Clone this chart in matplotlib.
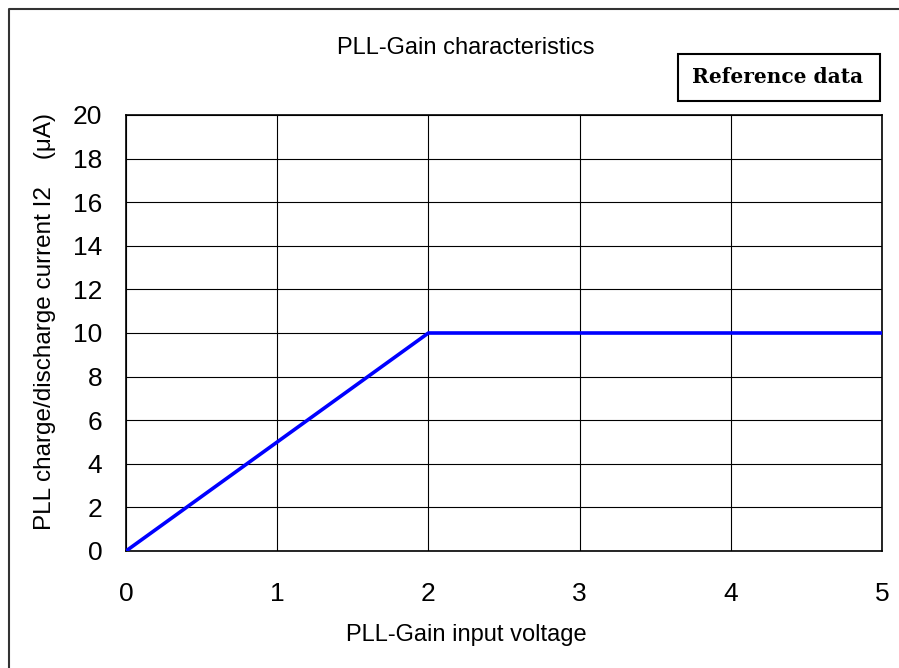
import matplotlib
matplotlib.use("Agg")
import matplotlib.pyplot as plt
from matplotlib.patches import Rectangle

# PLL gain curve (V -> uA)
voltage = [0, 2, 5]
current = [0, 10, 10]
xticks = [0, 1, 2, 3, 4, 5]
yticks = [0, 2, 4, 6, 8, 10, 12, 14, 16, 18, 20]

plt.rcParams['font.family'] = ['Liberation Sans', 'DejaVu Sans']

W, H = 899, 668
fig = plt.figure(figsize=(W / 100, H / 100), dpi=100)
ax = fig.add_axes([126 / W, 1 - 551 / H, (882 - 126) / W, (551 - 115) / H])

ax.plot(voltage, current, color='#0000ff', linewidth=2.6, solid_capstyle='butt', zorder=3)

ax.set_xlim(0, 5)
ax.set_ylim(0, 20)
ax.set_xticks(xticks)
ax.set_yticks(yticks)
ax.tick_params(length=0, labelsize=19)
ax.tick_params(axis='x', pad=22)
ax.tick_params(axis='y', pad=17)
ax.grid(True, color='black', linewidth=0.8)
for s in ax.spines.values():
    s.set_linewidth(1.2)

fig.text(466 / W, 1 - 641 / H, 'PLL-Gain input voltage', fontsize=17,
         ha='center', va='baseline')
fig.text(45 / W, 1 - 322 / H, 'PLL charge/discharge current I2    (μA)', fontsize=17.5,
         rotation=90, ha='center', va='center')

fig.text(466 / W, 1 - 54 / H, 'PLL-Gain characteristics', fontsize=17,
         ha='center', va='baseline')

# "Reference data" box
fig.patches.append(Rectangle((678 / W, 1 - 101 / H), 202 / W, 47 / H,
                             transform=fig.transFigure, fill=False,
                             edgecolor='black', linewidth=1.5))
fig.text(778 / W, 1 - 83 / H, 'Reference data', fontsize=14.5, fontweight='bold',
         family='DejaVu Serif', ha='center', va='baseline')

# outer frame (top and left edges visible)
fig.add_artist(plt.Line2D([9 / W, 9 / W, 1.0], [0, 1 - 8.5 / H, 1 - 8.5 / H],
                          transform=fig.transFigure, color='#333333', linewidth=1.5))

fig.savefig('out.png', dpi=100)
